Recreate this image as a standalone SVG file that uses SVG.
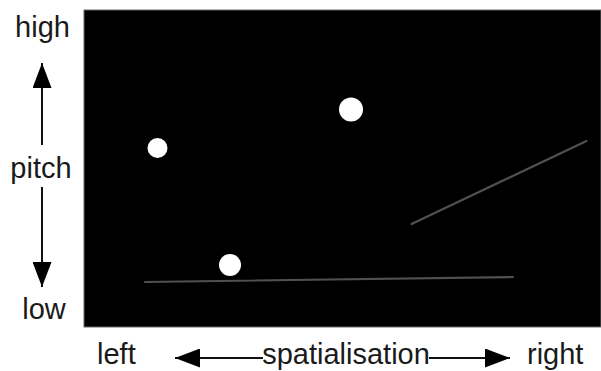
<svg xmlns="http://www.w3.org/2000/svg" width="601" height="371" viewBox="0 0 601 371">
<defs>
<style>
.t{font-family:"Liberation Sans",Arial,sans-serif;font-size:29px;fill:#1a1a1a}
.ax{stroke:#111;stroke-width:2;fill:none}
.tr{stroke:#505050;stroke-width:2.2;stroke-linecap:round;fill:none}
.dot{fill:#fff}
</style>
<marker id="ah" viewBox="0 0 25 19" refX="25" refY="9.5" markerWidth="25" markerHeight="19" markerUnits="userSpaceOnUse" orient="auto">
<path d="M0,0 L25,9.5 L0,19 Z" fill="#000"/>
</marker>
</defs>
<rect id="plot" x="84" y="10" width="517" height="317" fill="#000" stroke="#666" stroke-width="1"/>
<g id="dot1"><circle class="dot" cx="157.5" cy="148" r="10"/></g>
<g id="dot2"><circle class="dot" cx="351" cy="109.5" r="12"/></g>
<g id="dot3"><circle class="dot" cx="230" cy="265" r="11"/></g>
<g id="traces">
<line class="tr" x1="145" y1="282" x2="513" y2="277"/>
<line class="tr" x1="411.5" y1="224" x2="586.5" y2="141"/>
</g>
<g id="axes">
<line class="ax" x1="42" y1="145" x2="42" y2="63" marker-end="url(#ah)"/>
<line class="ax" x1="42" y1="187" x2="42" y2="287" marker-end="url(#ah)"/>
<line class="ax" x1="263" y1="358" x2="175" y2="358" marker-end="url(#ah)"/>
<line class="ax" x1="429" y1="358" x2="510" y2="358" marker-end="url(#ah)"/>
</g>
<g id="labels">
<text class="t" x="42.5" y="37" text-anchor="middle">high</text>
<text class="t" x="41" y="178" text-anchor="middle">pitch</text>
<text class="t" x="44" y="319" text-anchor="middle">low</text>
<text class="t" x="97" y="364">left</text>
<text class="t" x="346" y="364" text-anchor="middle">spatialisation</text>
<text class="t" x="527" y="364">right</text>
</g>
</svg>
